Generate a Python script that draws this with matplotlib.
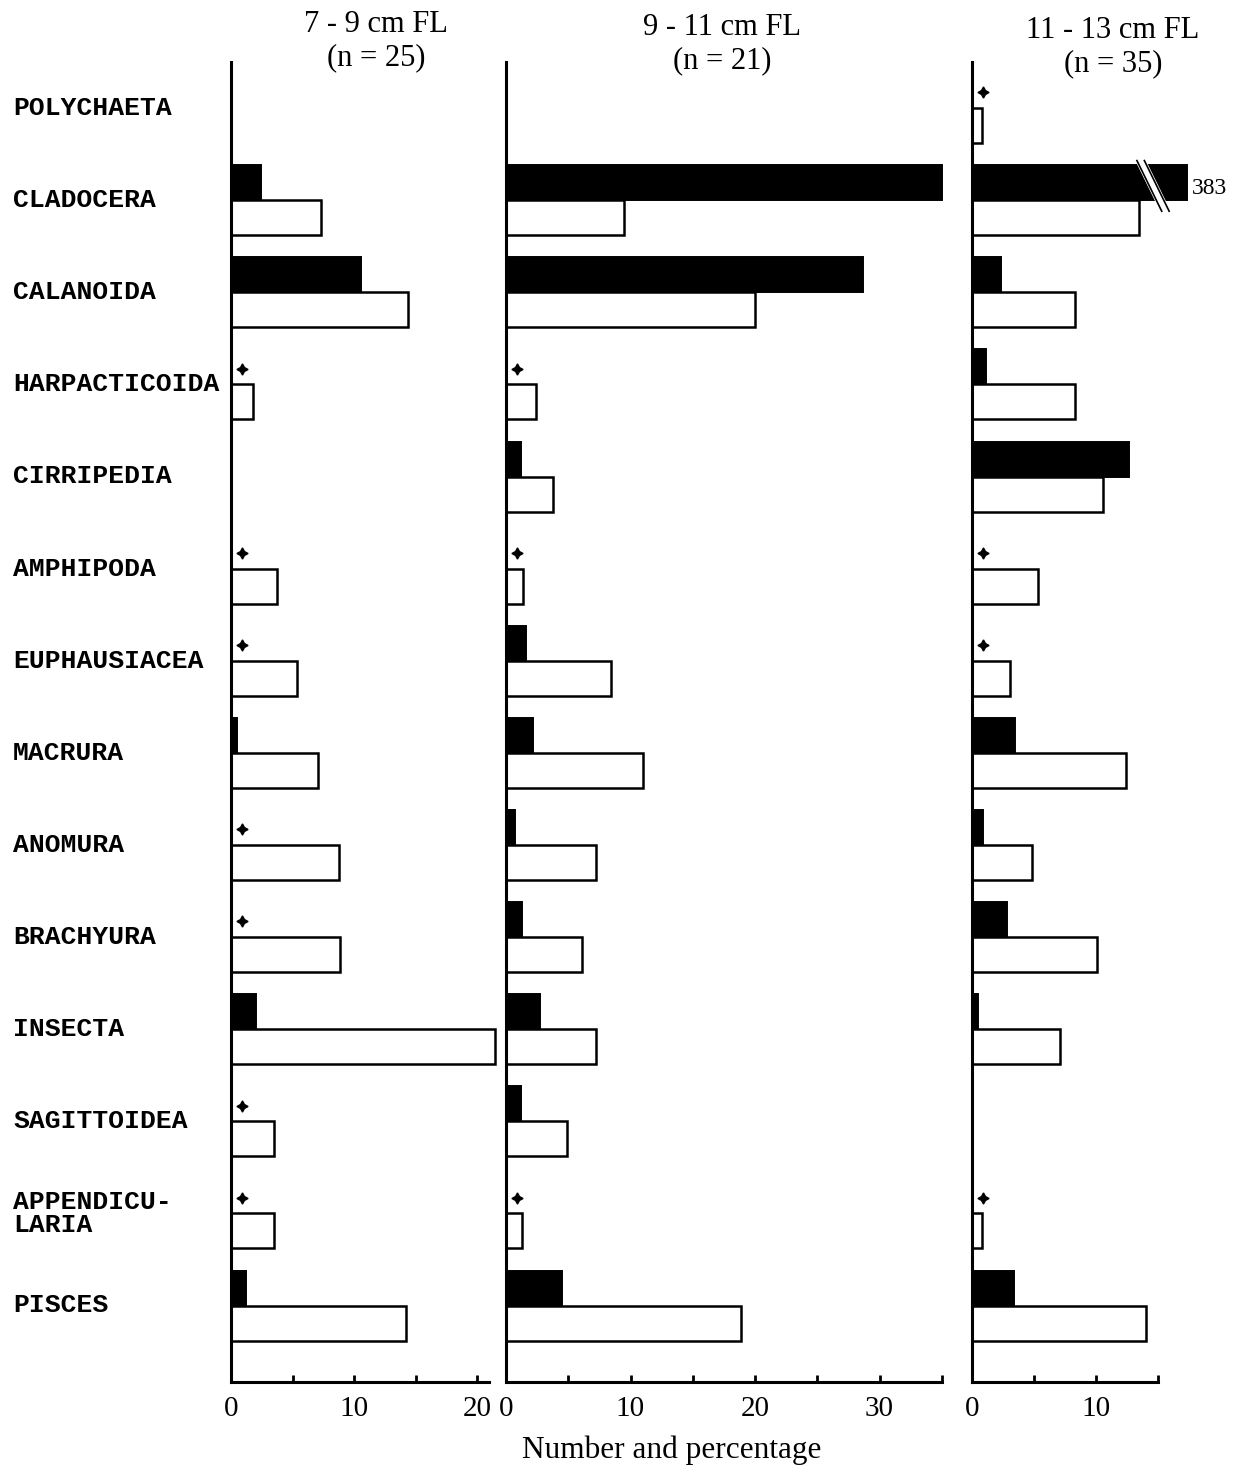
import numpy as np
import matplotlib
matplotlib.use("Agg")
import matplotlib.pyplot as plt

# ---- data -------------------------------------------------------------
categories = ["POLYCHAETA", "CLADOCERA", "CALANOIDA", "HARPACTICOIDA",
              "CIRRIPEDIA", "AMPHIPODA", "EUPHAUSIACEA", "MACRURA",
              "ANOMURA", "BRACHYURA", "INSECTA", "SAGITTOIDEA",
              "APPENDICU-\nLARIA", "PISCES"]

titles = ["7 - 9 cm FL\n(n = 25)", "9 - 11 cm FL\n(n = 21)", "11 - 13 cm FL\n(n = 35)"]

nan = np.nan
# number (black bars)
number_7_9 = [nan, 2.4, 10.6, nan, nan, nan, nan, 0.5, nan, nan, 2.0, nan, nan, 1.2]
number_9_11 = [nan, 35.0, 28.7, nan, 1.2, nan, 1.6, 2.2, 0.7, 1.3, 2.75, 1.2, nan, 4.5]
number_11_13 = [nan, 383, 2.3, 1.1, 12.7, nan, nan, 3.5, 0.9, 2.8, 0.5, nan, nan, 3.4]

# percentage (white bars)
percent_7_9 = [nan, 7.3, 14.4, 1.8, nan, 3.7, 5.4, 7.1, 8.8, 8.9, 21.5, 3.5, 3.5, 14.2]
percent_9_11 = [nan, 9.5, 20.0, 2.4, 3.8, 1.4, 8.4, 11.0, 7.2, 6.1, 7.25, 4.9, 1.3, 18.9]
percent_11_13 = [0.8, 13.5, 8.3, 8.3, 10.6, 5.3, 3.1, 12.4, 4.8, 10.1, 7.1, nan, 0.8, 14.0]

# categories present only in trace amounts (+)
trace_7_9 = ["HARPACTICOIDA", "AMPHIPODA", "EUPHAUSIACEA", "ANOMURA",
             "BRACHYURA", "SAGITTOIDEA", "APPENDICU-\nLARIA"]
trace_9_11 = ["HARPACTICOIDA", "AMPHIPODA", "APPENDICU-\nLARIA"]
trace_11_13 = ["POLYCHAETA", "AMPHIPODA", "EUPHAUSIACEA", "APPENDICU-\nLARIA"]

x_max = [21, 35, 15]
x_ticklabels = [[0, 10, 20], [0, 10, 20, 30], [0, 10]]

numbers = [number_7_9, number_9_11, number_11_13]
percents = [percent_7_9, percent_9_11, percent_11_13]
traces = [trace_7_9, trace_9_11, trace_11_13]

# ---- layout -----------------------------------------------------------
W, H = 1251, 1470
fig = plt.figure(figsize=(W / 100, H / 100), dpi=100)

serif = "Liberation Serif"
mono = "Liberation Mono"

axis_left_px = [231, 506, 972]
px_per_unit = [12.3, 12.45, 12.4]
top_px, bottom_px = 62, 1382
bar_h = 0.38
# the 383 bar of the last panel is drawn broken at this length
broken_cap = [np.inf, np.inf, 17.3]
title_top_px = [10, 13, 16]
title_center_px = [376, 722, 1113]

axes = []
for k in range(3):
    left = axis_left_px[k] / W
    width = x_max[k] * px_per_unit[k] / W
    ax = fig.add_axes([left, (H - bottom_px) / H, width, (bottom_px - top_px) / H])
    axes.append(ax)
    y = np.arange(len(categories))
    num = np.array(numbers[k], dtype=float)
    pct = np.array(percents[k], dtype=float)
    num_drawn = np.minimum(num, broken_cap[k])
    ax.barh(y - bar_h / 2, num_drawn, height=bar_h, color="black",
            edgecolor="black", linewidth=1.4, clip_on=False)
    ax.barh(y + bar_h / 2, pct, height=bar_h, color="white",
            edgecolor="black", linewidth=1.8, clip_on=False)

    # trace markers
    for name in traces[k]:
        i = categories.index(name)
        ax.plot(0.9, i - 0.17, marker=(4, 1, 0), markersize=8, color="black",
                clip_on=False)

    ax.set_xlim(0, x_max[k])
    ax.set_ylim(len(categories) - 1 + 0.83, -0.5)
    for s in ["top", "right"]:
        ax.spines[s].set_visible(False)
    for s in ["left", "bottom"]:
        ax.spines[s].set_linewidth(2.2)
    ax.set_yticks([])
    ax.set_xticks(x_ticklabels[k])
    ax.set_xticklabels([str(v) for v in x_ticklabels[k]], fontfamily=serif,
                       fontsize=21)
    ax.set_xticks(np.arange(5, x_max[k] + 0.1, 10), minor=True)
    ax.tick_params(axis="x", which="both", direction="in", length=5, width=2,
                   pad=10)

    # panel title
    fig.text(title_center_px[k] / W, 1 - title_top_px[k] / H, titles[k],
             ha="center", va="top", fontfamily=serif, fontsize=22,
             linespacing=1.2)

# broken bar marker and its value in panel 3
ax3 = axes[2]
i_cl = categories.index("CLADOCERA")
y0, y1 = i_cl - bar_h - 0.05, i_cl + 0.12
xa, xb = 13.6, 15.6
ax3.plot([xa, xb], [y0, y1], color="white", linewidth=7, clip_on=False,
         solid_capstyle="butt", zorder=5)
ax3.plot([xa - 0.3, xb - 0.3], [y0, y1], color="black", linewidth=1.2,
         clip_on=False, zorder=6)
ax3.plot([xa + 0.3, xb + 0.3], [y0, y1], color="black", linewidth=1.2,
         clip_on=False, zorder=6)
ax3.text(broken_cap[2] + 0.45, i_cl - bar_h / 2 + 0.06, f"{number_11_13[i_cl]:g}",
         ha="left", va="center", fontsize=17, fontfamily=serif)

# category labels
for i, name in enumerate(categories):
    ypx = 108 + i * 92.1
    fig.text(13 / W, 1 - ypx / H, name, ha="left", va="center",
             fontfamily=mono, fontweight="bold", fontsize=19,
             linespacing=0.95)

fig.text(672 / W, 1 - 1450 / H, "Number and percentage", ha="center",
         va="center", fontfamily=serif, fontsize=22.5)

fig.savefig("out.png", dpi=100, facecolor="white")
